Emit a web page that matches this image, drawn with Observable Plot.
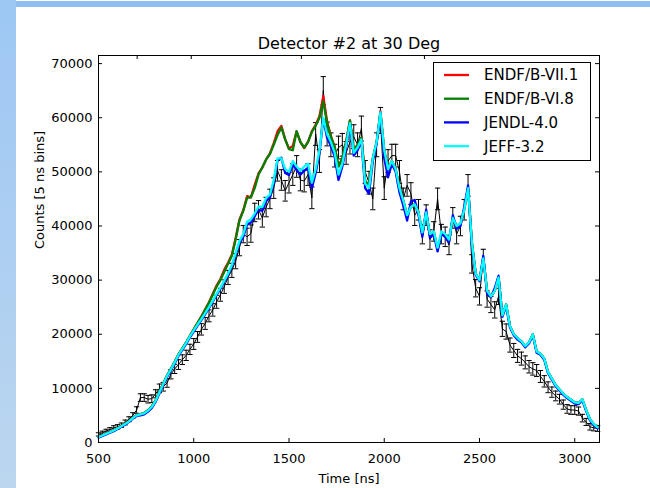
<!DOCTYPE html>
<html>
<head>
<meta charset="utf-8">
<script src="https://cdn.jsdelivr.net/npm/d3@7"></script>
<script src="https://cdn.jsdelivr.net/npm/@observablehq/plot@0.6"></script>
<style>
  html, body { margin: 0; padding: 0; background: white; }
  #wrap { position: relative; width: 650px; height: 488px; overflow: hidden; }
  #strip { position: absolute; left: 0; top: 0; width: 16px; height: 488px; background: linear-gradient(#9dc7f4, #bcd6ef); z-index: 2; }
  #bar { position: absolute; left: 16px; top: 1px; width: 634px; height: 6px; background: #8fbff2; z-index: 2; }
  #chart { position: absolute; left: 0; top: 0; }
</style>
</head>
<body>
<div id="wrap"><div id="chart"></div><div id="strip"></div><div id="bar"></div></div>
<script>
const title = "Detector #2 at 30 Deg";
const xLabel = "Time [ns]";
const yLabel = "Counts [5 ns bins]";
const seriesNames = ["ENDF/B-VII.1", "ENDF/B-VI.8", "JENDL-4.0", "JEFF-3.2"];
const seriesColors = ["#ff0000", "#008000", "#0000ff", "#00ffff"];
const xTicks = [500, 1000, 1500, 2000, 2500, 3000];
const yTicks = [0, 10000, 20000, 30000, 40000, 50000, 60000, 70000];
const topTicks = [703, 987, 1565, 2211];

const time = [500,520,540,560,580,600,620,640,660,680,700,720,740,760,780,800,820,840,860,880,900,920,940,960,980,
1000,1020,1040,1060,1080,1100,1120,1140,1160,1180,1200,1220,1240,1260,1280,1300,1320,1340,1360,1380,1400,1420,1440,1460,1480,
1500,1520,1540,1560,1580,1600,1620,1640,1660,1680,1700,1720,1740,1760,1780,1800,1820,1840,1860,1880,1900,1920,1940,1960,1980,
2000,2020,2040,2060,2080,2100,2120,2140,2160,2180,2200,2220,2240,2260,2280,2300,2320,2340,2360,2380,2400,2420,2440,2460,2480,
2500,2520,2540,2560,2580,2600,2620,2640,2660,2680,2700,2720,2740,2760,2780,2800,2820,2840,2860,2880,2900,2920,2940,2960,2980,
3000,3020,3040,3060,3080,3100,3120];

const jeff32 = [1000,1300,1600,1900,2200,2600,3000,3400,3900,4500,5000,5200,5400,5900,6600,7700,9300,10800,12300,13500,14800,16200,17300,18400,19600,
20700,21800,22800,23900,25000,26200,27500,28600,29900,31200,32800,35000,37200,38500,40800,41200,42300,43600,43500,45200,45800,48500,52500,52500,50500,
50000,52000,51000,50200,51000,51500,48000,50500,54000,60000,57000,55500,53500,49500,51500,55000,59000,53500,54500,56000,47800,47000,52500,55500,61000,
54000,50500,52000,50500,47000,44700,42000,43500,44000,42500,38800,42500,38500,39000,36000,39000,38500,37500,41500,40000,40500,43000,47000,37000,31200,
30000,34000,28000,27000,28000,30500,23500,25500,21500,20000,19300,18700,17800,18500,20000,16800,16400,15500,13000,11800,10600,9800,9000,8400,7900,
7400,7300,8000,6000,4300,3400,2800];

const jendl40 = [900,1200,1500,1800,2100,2500,2900,3300,3800,4400,4900,5000,5200,5700,6400,7500,9100,10600,12100,13300,14600,16000,17100,18200,19400,
20500,21600,22600,23700,24800,26000,27300,28400,29700,31000,32600,34700,36900,38000,40300,40600,41800,43000,42800,44600,45300,48000,52200,52600,49800,
49400,51400,50300,49500,50200,50800,47000,49800,53500,59800,56300,54800,52800,48500,51000,54500,58800,53000,54000,55600,47000,46000,52000,55200,60800,
52500,49000,51500,50000,46200,43800,41000,44500,44800,42000,38000,43000,37800,38500,35300,38500,38000,37000,42000,39500,40000,43500,47500,36500,31000,
29800,34500,27500,26800,28500,30800,23200,25200,21300,19800,19000,18500,17600,18300,19800,16600,16200,15300,12800,11600,10400,9600,8800,8200,7700,
7200,7100,7800,5800,4100,3200,2600];

const endfb68 = [1000,1300,1600,1900,2200,2600,3000,3450,3950,4550,5050,5250,5450,5950,6700,7800,9400,10900,12400,13600,14900,16300,17400,18500,19700,
20900,22100,23200,24500,25800,27300,28800,30000,31500,33000,34500,37500,41000,42800,45200,45300,47000,49500,50800,52300,53300,55000,56800,58200,56000,
54200,54000,57500,55500,54500,55500,57400,58500,60000,63000,59000,56500,54500,51000,52500,55500,59500,54000,55000,56300,48300,47500,52500,55500,61000,
54000,50500,52000,50500,47000,44700,42000,43500,44000,42500,38500,42500,38300,39000,35800,38500,38300,37200,41500,40000,40300,43000,47000,37000,31200,
30000,34000,28000,27000,28000,30500,23500,25500,21500,20000,19300,18700,17800,18500,20000,16800,16400,15500,13000,11800,10600,9800,9000,8400,7900,
7400,7300,8000,6000,4300,3400,2800];

const endfb71 = [1000,1300,1600,1900,2200,2600,3000,3450,3950,4550,5050,5250,5450,5950,6700,7800,9400,10900,12400,13600,14900,16300,17400,18500,19700,
20900,22100,23300,24600,25900,27500,29000,30200,31900,33200,34700,37800,41200,42900,45500,45300,47600,49700,50800,52300,53400,55300,57500,58500,56000,
54300,54800,57500,55500,54400,55600,57500,58700,60300,64000,59300,56600,54600,51000,52500,55600,59500,54000,55000,56300,48300,47500,52500,55500,61200,
54000,50500,52000,50500,47000,44700,42000,43500,44000,42500,38500,42500,38300,39000,35800,38500,38300,37200,41500,40000,40300,43000,47000,37000,31200,
30000,34000,28000,27000,28000,30500,23500,25500,21500,20000,19300,18700,17800,18500,20000,16800,16400,15500,13000,11800,10600,9800,9000,8400,7900,
7400,7300,8000,6000,4300,3400,2800];

const measured = [1500,1800,2100,2400,2700,2900,3200,3700,4300,5000,6000,8300,8300,8000,8100,9000,10000,10300,11000,12600,13600,14400,15300,16100,17200,
18200,19500,20900,22000,23400,24500,26000,27300,28800,30500,31800,33500,36000,38500,38000,38600,42500,43000,41500,43500,45000,47000,50200,48500,46500,
48000,49500,51000,48500,48300,49500,45200,57000,52000,65000,57000,55000,53000,54500,55000,53500,55500,56500,55000,58000,50000,48000,45000,55000,59500,
47000,52000,53000,53000,50000,45000,47500,46000,42000,43000,38500,42000,37500,39000,45000,38500,38000,36500,41500,38500,40000,43000,47500,33000,28500,
27000,34000,26500,25500,24500,27000,21000,20500,18000,17000,16000,15500,14800,14000,13600,13300,12200,11300,10200,9300,8600,8000,7000,6200,6000,
6000,5800,4500,3800,2900,2700,2600];

const measuredErr = [300,300,350,350,400,400,400,450,450,500,600,700,700,700,700,750,800,800,800,850,850,900,900,950,950,
1000,1000,1050,1100,1100,1150,1200,1200,1250,1300,1300,1400,1500,1600,1600,1600,1700,1700,1700,1800,1800,1900,1900,1900,1900,
1900,2000,2000,2000,2000,2000,2000,2100,2100,2600,2200,2200,2100,2100,2100,2100,2200,2200,2200,2300,2100,2100,2000,2200,2400,
2100,2100,2100,2100,2100,2000,2000,2000,1900,1900,1800,1900,1800,1800,2000,1800,1800,1800,1900,1800,1800,1900,2000,1700,1600,
1600,1700,1500,1500,1500,1500,1400,1400,1300,1300,1200,1200,1200,1150,1150,1100,1100,1050,1000,950,900,900,850,800,800,
800,750,700,650,600,550,550];

const rows = time.map((t, i) => ({
  t, e: measured[i], err: measuredErr[i],
  s0: endfb71[i], s1: endfb68[i], s2: jendl40[i], s3: jeff32[i]
}));

const W = 650, H = 488, mL = 98, mR = 51, mT = 55, mB = 46;
const pw = W - mL - mR, ph = H - mT - mB;

const chart = Plot.plot({
  width: W, height: H,
  marginLeft: mL, marginRight: mR, marginTop: mT, marginBottom: mB,
  style: { fontFamily: "DejaVu Sans", fontSize: "13px", background: "transparent", color: "black" },
  x: { domain: [500, 3130] },
  y: { domain: [0, 71500] },
  marks: [
    Plot.ruleX(rows, { x: "t", y1: d => d.e - d.err, y2: d => d.e + d.err, stroke: "black", strokeWidth: 1 }),
    Plot.link(rows, { x1: d => d.t - 14, x2: d => d.t + 14, y1: d => d.e + d.err, y2: d => d.e + d.err, stroke: "black", strokeWidth: 1 }),
    Plot.link(rows, { x1: d => d.t - 14, x2: d => d.t + 14, y1: d => d.e - d.err, y2: d => d.e - d.err, stroke: "black", strokeWidth: 1 }),
    Plot.line(rows, { x: "t", y: "e", stroke: "black", strokeWidth: 1 }),
    Plot.line(rows, { x: "t", y: "s0", stroke: seriesColors[0], strokeWidth: 2.3 }),
    Plot.line(rows, { x: "t", y: "s1", stroke: seriesColors[1], strokeWidth: 2.3 }),
    Plot.line(rows, { x: "t", y: "s2", stroke: seriesColors[2], strokeWidth: 2.3 }),
    Plot.line(rows, { x: "t", y: "s3", stroke: seriesColors[3], strokeWidth: 2.3 }),
    Plot.frame({ stroke: "black", strokeWidth: 1 }),
    Plot.tickY(yTicks, { y: d => d, insetRight: pw - 4, stroke: "black" }),
    Plot.tickY(yTicks, { y: d => d, insetLeft: pw - 4, stroke: "black" }),
    Plot.tickX(xTicks, { x: d => d, insetTop: ph - 4, stroke: "black" }),
    Plot.tickX(topTicks, { x: d => d, insetBottom: ph - 4, stroke: "black" }),
    Plot.axisX({ ticks: xTicks, tickSize: 0, tickPadding: 11, label: null, tickFormat: d => String(d), fontSize: 13 }),
    Plot.axisY({ ticks: yTicks, tickSize: 0, tickPadding: 6, label: null, tickFormat: d => String(d), fontSize: 13 }),
    Plot.text([title], { frameAnchor: "top", lineAnchor: "middle", dy: -12, fontSize: 16, fill: "black" }),
    Plot.text([xLabel], { frameAnchor: "bottom", lineAnchor: "middle", dy: 36, fontSize: 13, fill: "black" }),
    Plot.text([yLabel], { frameAnchor: "left", lineAnchor: "middle", rotate: -90, dx: -59, fontSize: 13, fill: "black" })
  ]
});

// legend box (matplotlib style), upper right inside axes
const svg = d3.select(chart);
const lg = svg.append("g").attr("font-family", "DejaVu Sans").attr("font-size", 15).attr("text-anchor", "start");
lg.append("rect").attr("x", 433.5).attr("y", 62.5).attr("width", 157).attr("height", 98)
  .attr("fill", "white").attr("stroke", "black").attr("stroke-width", 1);
seriesNames.forEach((name, i) => {
  const yy = 75 + i * 23.7;
  lg.append("line").attr("x1", 444).attr("x2", 469).attr("y1", yy).attr("y2", yy)
    .attr("stroke", seriesColors[i]).attr("stroke-width", 2.3);
  lg.append("text").attr("x", 484).attr("y", yy).attr("dy", "0.36em").attr("text-anchor", "start")
    .attr("fill", "black").text(name);
});

document.getElementById("chart").appendChild(chart);
</script>
</body>
</html>
